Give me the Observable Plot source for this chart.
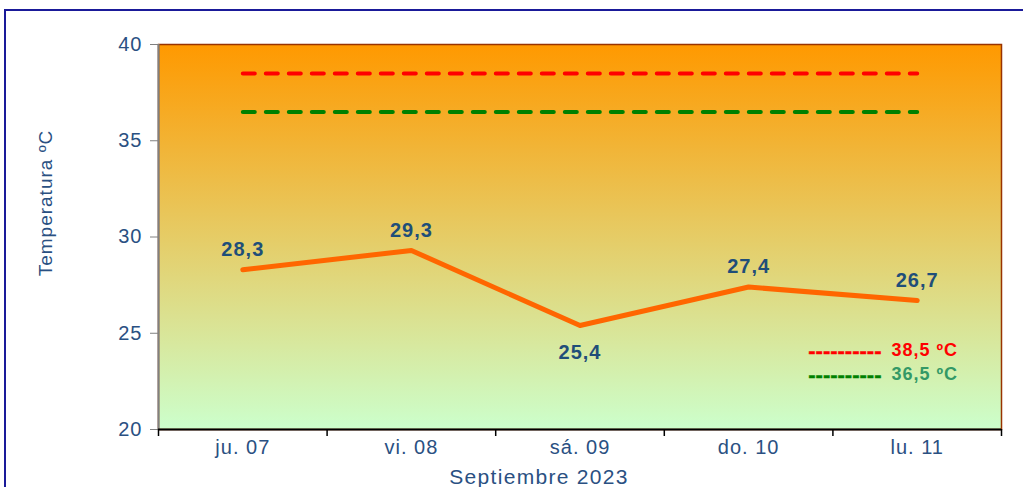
<!DOCTYPE html>
<html><head><meta charset="utf-8">
<script src="https://cdn.jsdelivr.net/npm/d3@7"></script>
<script src="https://cdn.jsdelivr.net/npm/@observablehq/plot@0.6"></script>
<style>
html,body{margin:0;padding:0;background:#fff;overflow:hidden;}
#chart{width:1023px;height:487px;}
#chart svg text{letter-spacing:1px;}
#chart svg .wide text{letter-spacing:1.3px;}
#chart svg .dashes text{letter-spacing:0px;}
</style></head>
<body><div id="chart"></div>
<script>
const days = ["ju. 07", "vi. 08", "sá. 09", "do. 10", "lu. 11"];
const temps = [28.3, 29.3, 25.4, 27.4, 26.7];
const thresholds = [38.5, 36.5];
const thresholdColors = ["#ff0000", "#008000"];
const legendTextColors = ["#ff0000", "#339966"];
const yTicks = [20, 25, 30, 35, 40];
const xTitle = "Septiembre 2023";
const yTitle = "Temperatura ºC";

const fmt = v => v.toFixed(1).replace(".", ",");
const pts = temps.map((t, i) => ({x: i + 0.5, t, day: days[i]}));
const lowIndex = temps.indexOf(d3.min(temps));
const ptsAbove = pts.filter((d, i) => i !== lowIndex);
const ptsBelow = pts.filter((d, i) => i === lowIndex);
const thr = thresholds.flatMap((v, k) => [
  {x: 0.5, v, k}, {x: days.length - 0.5, v, k}
]);
const legend = thresholds.map((v, k) => ({v, k, label: fmt(v) + " ºC"}));
const blue = "#2a5082";
const font = "'Liberation Sans', Arial, sans-serif";

const legendMarks = legend.flatMap(d => [
  Plot.text([d], {frameAnchor: "bottom-right", dx: -120, dy: -79 + d.k * 24, lineAnchor: "middle", text: () => "----------", fill: thresholdColors[d.k], textAnchor: "end", fontSize: 22, fontWeight: "bold", stroke: thresholdColors[d.k], strokeWidth: 0.4, className: "dashes"}),
  Plot.text([d], {frameAnchor: "bottom-right", dx: -110, dy: -79 + d.k * 24, lineAnchor: "middle", text: "label", fill: legendTextColors[d.k], textAnchor: "start", fontSize: 18, fontWeight: "bold"})
]);

const plot = Plot.plot({
  width: 1023,
  height: 487,
  marginLeft: 158,
  marginRight: 22,
  marginTop: 44,
  marginBottom: 58,
  style: {fontFamily: font, background: "transparent", overflow: "visible"},
  x: {domain: [0, days.length]},
  y: {domain: [20, 40]},
  marks: [
    Plot.frame({fill: "url(#bggrad)", stroke: "#993300", strokeWidth: 1.5}),
    // y axis
    Plot.ruleX([0], {stroke: "#808080", strokeWidth: 2}),
    Plot.axisY({ticks: yTicks, tickSize: 8, tickPadding: 8, stroke: "#808080", fill: blue, fontSize: 20, label: null}),
    Plot.text([yTitle], {frameAnchor: "left", dx: -113, dy: -34, rotate: -90, textAnchor: "middle", lineAnchor: "middle", fill: blue, fontSize: 19}),
    // x axis
    Plot.ruleY([20], {stroke: "#000", strokeWidth: 2}),
    Plot.axisX({ticks: d3.range(days.length + 1), tickSize: 7, tickFormat: () => "", stroke: "#000", strokeWidth: 1.5, label: null}),
    Plot.axisX({ticks: pts.map(d => d.x), tickSize: 0, tickPadding: 10, tickFormat: d => days[Math.round(d - 0.5)], fill: blue, fontSize: 20, label: null}),
    Plot.text([xTitle], {frameAnchor: "bottom", dx: -41, dy: 48, lineAnchor: "middle", fill: blue, fontSize: 21, className: "wide"}),
    // thresholds
    Plot.line(thr, {x: "x", y: "v", z: "k", stroke: d => thresholdColors[d.k], strokeWidth: 4, strokeDasharray: "12,11", strokeLinecap: "round"}),
    // series
    Plot.line(pts, {x: "x", y: "t", stroke: "#ff6600", strokeWidth: 5, strokeLinecap: "round", strokeLinejoin: "round"}),
    Plot.text(ptsAbove, {x: "x", y: "t", text: d => fmt(d.t), dy: -20, fill: "#1f4e79", fontWeight: "bold", fontSize: 20}),
    Plot.text(ptsBelow, {x: "x", y: "t", text: d => fmt(d.t), dy: 27, fill: "#1f4e79", fontWeight: "bold", fontSize: 20}),
    ...legendMarks
  ]
});

const svg = d3.select(plot);
const defs = svg.insert("defs", ":first-child");
const g = defs.append("linearGradient").attr("id", "bggrad").attr("x1", 0).attr("y1", 0).attr("x2", 0).attr("y2", 1);
g.append("stop").attr("offset", "0%").attr("stop-color", "#ff9900");
g.append("stop").attr("offset", "100%").attr("stop-color", "#ccffcc");
svg.append("rect").attr("x", 5).attr("y", 10).attr("width", 1100).attr("height", 600)
  .attr("fill", "none").attr("stroke", "#1a1a99").attr("stroke-width", 2);
document.getElementById("chart").appendChild(plot);
</script></body></html>
